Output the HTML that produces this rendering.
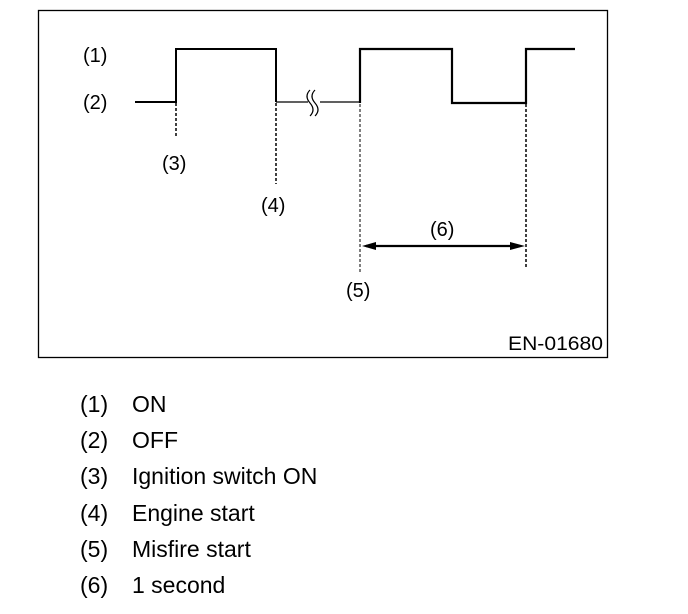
<!DOCTYPE html>
<html><head><style>
html,body{margin:0;padding:0;background:#fff;}
body{width:688px;height:614px;position:relative;overflow:hidden;font-family:"Liberation Sans",sans-serif;}
.l{position:absolute;font-size:23px;color:#000;line-height:26px;}
</style></head><body>
<svg width="688" height="614" style="position:absolute;left:0;top:0" font-family="Liberation Sans, sans-serif">
<rect x="38.5" y="10.5" width="569" height="347" fill="none" stroke="#000" stroke-width="1.3"/>
<g fill="none" stroke="#000" stroke-width="2">
<polyline points="135,102 176,102 176,49 276,49 276,102"/>
<polyline points="360,103 360,49 452,49 452,103 526,103 526,49 575,49" stroke-width="2.2"/>
</g>
<line x1="276" y1="102" x2="360" y2="102" stroke="#000" stroke-width="1.2"/>
<rect x="308" y="90" width="12" height="26" fill="#fff"/>
<path d="M310,90 q-6,6 0,13 q6,7 0,13 M315,90 q-6,6 0,13 q6,7 0,13" fill="none" stroke="#000" stroke-width="1.2"/>
<g stroke="#000" stroke-width="1.5" stroke-dasharray="3,2">
<line x1="176" y1="103" x2="176" y2="138"/>
<line x1="276" y1="103" x2="276" y2="184"/>
<line x1="360" y1="104" x2="360" y2="273" stroke-width="1"/>
<line x1="526" y1="104" x2="526" y2="268"/>
</g>
<line x1="366" y1="246" x2="520" y2="246" stroke="#000" stroke-width="2.2"/>
<polygon points="362,246 376,242 376,250" fill="#000"/>
<polygon points="525,246 510,242 510,250" fill="#000"/>
<g font-size="20" fill="#000">
<text x="83" y="62">(1)</text>
<text x="83" y="109">(2)</text>
<text x="162" y="170">(3)</text>
<text x="261" y="212">(4)</text>
<text x="346" y="297">(5)</text>
<text x="430" y="236">(6)</text>
<text x="603" y="350" text-anchor="end" font-size="19" textLength="95" lengthAdjust="spacingAndGlyphs">EN-01680</text>
</g>
</svg>
<div class="l" style="left:80px;top:391px">(1)</div><div class="l" style="left:132px;top:391px">ON</div>
<div class="l" style="left:80px;top:427px">(2)</div><div class="l" style="left:132px;top:427px">OFF</div>
<div class="l" style="left:80px;top:463px">(3)</div><div class="l" style="left:132px;top:463px">Ignition switch ON</div>
<div class="l" style="left:80px;top:500px">(4)</div><div class="l" style="left:132px;top:500px">Engine start</div>
<div class="l" style="left:80px;top:536px">(5)</div><div class="l" style="left:132px;top:536px">Misfire start</div>
<div class="l" style="left:80px;top:572px">(6)</div><div class="l" style="left:132px;top:572px">1 second</div>
</body></html>
